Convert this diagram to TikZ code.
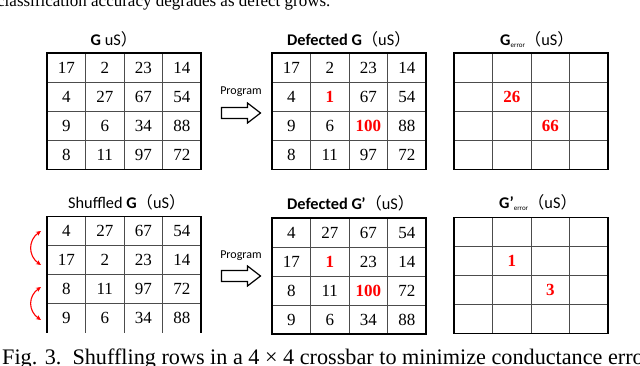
\documentclass[tikz,border=0pt]{standalone}
\usepackage{fontspec}
\setmainfont{Liberation Serif}
\newfontfamily\calfont{Carlito}
\newfontfamily\cjkfont{Noto Sans CJK SC}
\usetikzlibrary{arrows.meta}
\newcommand{\rd}[1]{\textcolor{red}{\bfseries #1}}
\newcommand{\errsub}{\raisebox{-1.5pt}{\mdseries\fontsize{7}{7}\selectfont error}\mdseries}
% grid lines: #1 left, #2 top, #3 row height, #4 1 = with bottom border
\newcommand{\gridlines}[4]{%
  \foreach \i in {1,2,3} {
    \draw[innerline] ({#1+\i*38.5},#2) -- ++(0,{4*#3});
    \draw[innerline] (#1,{#2+\i*#3}) -- ++(154,0);
  }
  \ifnum#4=1
    \draw[outerline] (#1,#2) rectangle ++(154,{4*#3});
  \else
    \draw[outerline] (#1,{#2+4*#3}) -- (#1,#2) -- ({#1+154},#2) -- ({#1+154},{#2+4*#3});
  \fi}
% values: #1 name, #2 left, #3 top, #4 row height, #5 rows
\newcommand{\gridvals}[5]{%
  \foreach \row [count=\r] in {#5} {
    \foreach \v [count=\c] in \row {
      \node[num] (#1-\r-\c) at ({#2+(\c-0.5)*38.5},{#3+(\r-0.5)*#4}) {\v};
    }
  }}
\begin{document}
\begin{tikzpicture}[x=1pt,y=-1pt,
  num/.style={font=\fontsize{17}{17}\selectfont, inner sep=0pt},
  errnum/.style={font=\fontsize{17}{17}\selectfont\bfseries, text=red, inner sep=0pt},
  ttl/.style={font=\calfont\fontsize{16.3}{17}\selectfont, anchor=base west, inner sep=0pt},
  outerline/.style={line width=1.1pt, black},
  innerline/.style={line width=0.7pt, black!70},
  prog/.style={font=\calfont\fontsize{12}{12}\selectfont, inner sep=0pt},
  blockarrow/.style={line width=1.2pt, black, line join=miter},
  swaparrow/.style={red, line width=1.1pt, {Stealth[length=5pt,width=4.5pt]}-{Stealth[length=5pt,width=4.5pt]}},
  capt/.style={anchor=base west, inner sep=0pt}]
\useasboundingbox (0,0) rectangle (640,366);
\clip (0,0) rectangle (640,366);
\fill[white] (0,0) rectangle (640,366);

% page text (clipped)
\node[capt, font=\fontsize{17}{17}\selectfont] (bodytext) at (-3,7) {classification accuracy degrades as defect grows.};
\node[capt, font=\fontsize{22.2}{22}\selectfont] (caption) at (2,364) {Fig. 3.\ \ Shuffling rows in a 4 × 4 crossbar to minimize conductance error};

% titles
\node[ttl] (t1) at (90.5,46) {\bfseries G\ \mdseries uS\cjkfont ）};
\node[ttl] (t2) at (287,46) {\bfseries Defected G\mdseries\cjkfont （\calfont uS\cjkfont ）};
\node[ttl] (t3) at (500,46) {\bfseries G\errsub\cjkfont （\calfont uS\cjkfont ）};
\node[ttl] (t4) at (68,209) {Shuffled \bfseries G\mdseries\cjkfont （\calfont uS\cjkfont ）};
\node[ttl] (t5) at (287,210) {\bfseries Defected G\kern-0.5pt\char"2019\mdseries\cjkfont （\calfont uS\cjkfont ）};
\node[ttl] (t6) at (499,209) {\bfseries G\char"2019\errsub\cjkfont （\calfont uS\cjkfont ）};

% top row of grids
\gridlines{47}{53}{29.1}{1}
\gridvals{A}{47}{53}{29.1}{{17,2,23,14},{4,27,67,54},{9,6,34,88},{8,11,97,72}}
\gridlines{272}{53}{29.1}{1}
\gridvals{B}{272}{53}{29.1}{{17,2,23,14},{4,\rd{1},67,54},{9,6,\rd{100},88},{8,11,97,72}}
\gridlines{454}{53}{29.1}{1}
\node[errnum] (C-2-2) at ({454+1.5*38.5},{53+1.5*29.1}) {26};
\node[errnum] (C-3-3) at ({454+2.5*38.5},{53+2.5*29.1}) {66};

% bottom row of grids
\gridlines{47}{216.5}{29}{0}
\gridvals{D}{47}{216.5}{29}{{4,27,67,54},{17,2,23,14},{8,11,97,72},{9,6,34,88}}
\gridlines{272}{218}{29}{1}
\gridvals{E}{272}{218}{29}{{4,27,67,54},{17,\rd{1},23,14},{8,11,\rd{100},72},{9,6,34,88}}
\gridlines{454}{217.5}{29}{1}
\node[errnum] (F-2-2) at ({454+1.5*38.5},{217.5+1.5*29}) {1};
\node[errnum] (F-3-3) at ({454+2.5*38.5},{217.5+2.5*29}) {3};

% program arrows
\node[prog] (p1) at (241,92) {Program};
\draw[blockarrow] (221.5,107.5) -- (247.5,107.5) -- (247.5,103) -- (260.5,113) -- (247.5,123) -- (247.5,118.5) -- (221.5,118.5) -- cycle;
\node[prog] (p2) at (241,256) {Program};
\draw[blockarrow] (221.5,270.5) -- (247.5,270.5) -- (247.5,266) -- (260.5,276) -- (247.5,286) -- (247.5,281.5) -- (221.5,281.5) -- cycle;

% swap arrows
\coordinate (s1a) at (41,231);
\coordinate (s1b) at (41,265);
\coordinate (s2a) at (41,287);
\coordinate (s2b) at (41,320);
\draw[swaparrow] (s1a) .. controls (28,240) and (28,256) .. (s1b);
\draw[swaparrow] (s2a) .. controls (28,296) and (28,311) .. (s2b);
\end{tikzpicture}
\end{document}
